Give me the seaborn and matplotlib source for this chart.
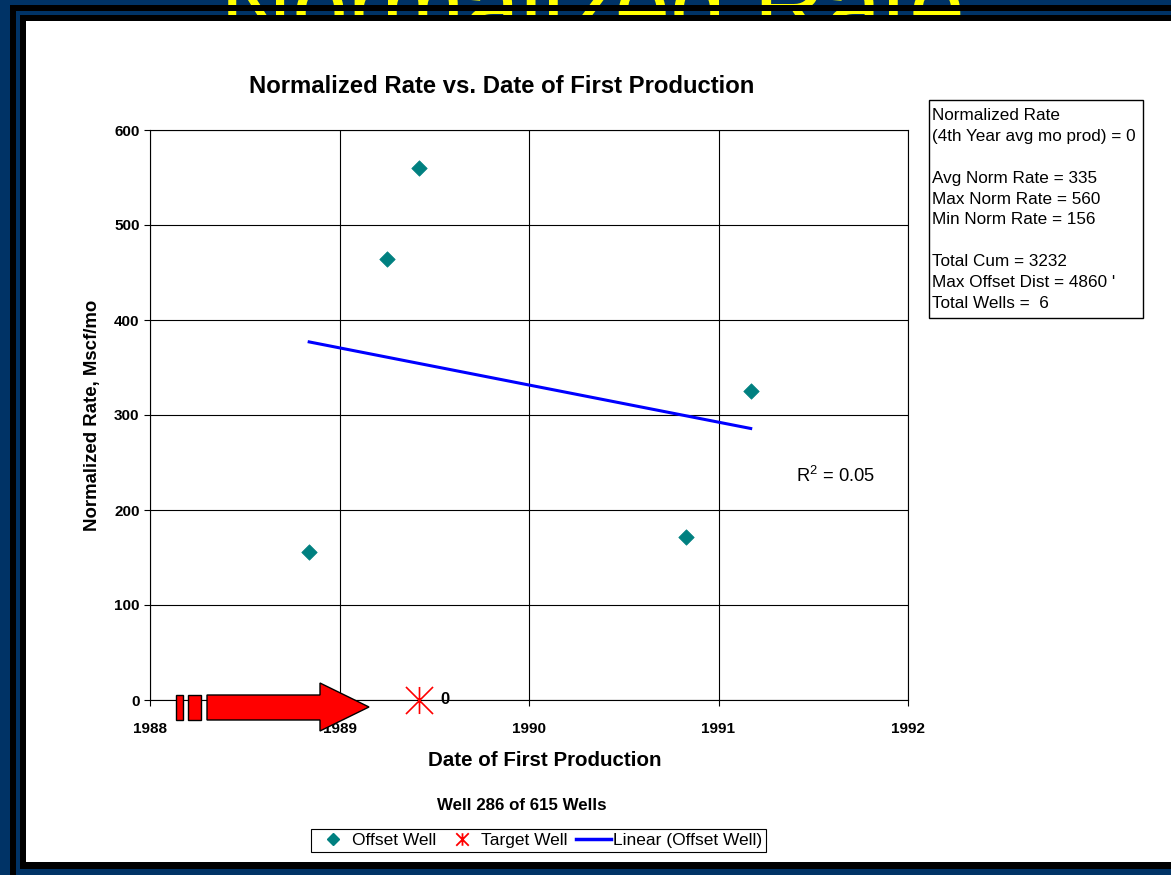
import numpy as np
import pandas as pd
import matplotlib
matplotlib.use("Agg")
import matplotlib.pyplot as plt
from matplotlib.path import Path
from matplotlib.markers import MarkerStyle
from matplotlib.patches import Rectangle, Polygon
from matplotlib.lines import Line2D
import seaborn as sns

# ---- data -------------------------------------------------------------
# Offset wells: date of first production (decimal year) and normalized rate (Mscf/mo)
offset_dates = [1988.84, 1989.25, 1989.42, 1990.83, 1991.17]
offset_rates = [156, 464, 560, 172, 325]

# Target well
target_dates = [1989.42]
target_rates = [0]

x_ticks = [1988, 1989, 1990, 1991, 1992]
y_ticks = [0, 100, 200, 300, 400, 500, 600]

target_norm_rate = 0
total_cum = 3232
max_offset_dist = 4860
total_wells = 6
well_index = 286
well_count = 615

# ---- fonts ------------------------------------------------------------
plt.rcParams["font.family"] = ["Liberation Sans", "DejaVu Sans"]
plt.rcParams["mathtext.fontset"] = "custom"
plt.rcParams["mathtext.rm"] = "Liberation Sans"
plt.rcParams["mathtext.it"] = "Liberation Sans:italic"
plt.rcParams["mathtext.bf"] = "Liberation Sans:bold"

W, H = 1171, 875
fig = plt.figure(figsize=(W / 100, H / 100), dpi=100, facecolor="#003366")


def fx(x):
    return x / W


def fy(y):
    return 1 - y / H


def rect_px(x0, y0, x1, y1, **kw):
    r = Rectangle((fx(x0), fy(y1)), fx(x1) - fx(x0), fy(y0) - fy(y1),
                  transform=fig.transFigure, **kw)
    fig.add_artist(r)
    return r


# ---- slide frame --------------------------------------------------------
fig.text(fx(592), fy(40), "Normalized Rate", color="#FFFF00", fontsize=72,
         ha="center", va="baseline", zorder=-6)
rect_px(10, 5, W, 11, facecolor="black", edgecolor="none", zorder=-5)
rect_px(10, 5, 16, H, facecolor="black", edgecolor="none", zorder=-5)
rect_px(20, 15, W, 869, facecolor="black", edgecolor="none", zorder=-4)
rect_px(26, 21, W, 862, facecolor="white", edgecolor="none", zorder=-3)

# ---- plot area ----------------------------------------------------------
ax = fig.add_axes([fx(150), fy(700), fx(908) - fx(150), fy(130) - fy(700)])
ax.set_facecolor("white")

offset_df = pd.DataFrame({"date": offset_dates, "rate": offset_rates})
target_df = pd.DataFrame({"date": target_dates, "rate": target_rates})

teal = "#008080"
sns.regplot(data=offset_df, x="date", y="rate", scatter=False, ci=None,
            line_kws=dict(color="#0000FF", lw=2.2, zorder=3), ax=ax)
sns.scatterplot(data=offset_df, x="date", y="rate", marker="D", s=62,
                color=teal, edgecolor=teal, linewidth=0.5, ax=ax, zorder=4)

# asterisk made of a vertical bar and a cross
asterisk = MarkerStyle(Path([(0, -1), (0, 1), (-1, -1), (1, 1), (-1, 1), (1, -1)],
                            [Path.MOVETO, Path.LINETO, Path.MOVETO, Path.LINETO,
                             Path.MOVETO, Path.LINETO]))
sns.scatterplot(data=target_df, x="date", y="rate", marker=asterisk, s=380,
                color="red", edgecolor="red", linewidth=1.2, ax=ax, zorder=5,
                clip_on=False)
for d, r in zip(target_dates, target_rates):
    ax.annotate(f"{r:g}", (d, r), xytext=(15, 0), textcoords="offset points",
                fontsize=12, fontweight="bold", va="center", ha="left",
                annotation_clip=False, zorder=6)

# linear trend statistics
slope, intercept = np.polyfit(offset_dates, offset_rates, 1)
pred = slope * np.array(offset_dates) + intercept
ss_res = np.sum((np.array(offset_rates) - pred) ** 2)
ss_tot = np.sum((np.array(offset_rates) - np.mean(offset_rates)) ** 2)
r2 = 1 - ss_res / ss_tot
ax.text(1991.41, 236, f"R$^2$ = {r2:.2f}", fontsize=13.2, ha="left", va="center")

ax.set_xlim(x_ticks[0], x_ticks[-1])
ax.set_ylim(y_ticks[0], y_ticks[-1])
ax.set_xticks(x_ticks)
ax.set_yticks(y_ticks)
ax.grid(True, color="black", lw=0.8)
ax.set_axisbelow(True)
for sp in ax.spines.values():
    sp.set_color("black")
    sp.set_linewidth(0.8)
ax.tick_params(direction="out", length=4, width=0.8, colors="black",
               labelsize=11, pad=3.5)
ax.tick_params(axis="x", pad=11.5)
for lab in ax.get_xticklabels() + ax.get_yticklabels():
    lab.set_fontweight("bold")

ax.set_xlabel("Date of First Production", fontsize=14.8, fontweight="bold")
ax.set_ylabel("Normalized Rate, Mscf/mo", fontsize=13.4, fontweight="bold")
ax.xaxis.set_label_coords((545 - 150) / 758, -(751 - 700) / 570)
ax.yaxis.set_label_coords(-(150 - 101) / 758, 0.5)

fig.text(fx(502), fy(93), "Normalized Rate vs. Date of First Production",
         fontsize=17.2, fontweight="bold", ha="center", va="baseline")
fig.text(fx(522), fy(810), f"Well {well_index} of {well_count} Wells",
         fontsize=12.2, fontweight="bold", ha="center", va="baseline")

# ---- statistics box ----------------------------------------------------
rect_px(929, 100, 1143, 318, facecolor="white", edgecolor="black", lw=1, zorder=2)
info_lines = [
    "Normalized Rate",
    f"(4th Year avg mo prod) = {target_norm_rate}",
    "",
    f"Avg Norm Rate = {np.mean(offset_rates):.0f}",
    f"Max Norm Rate = {max(offset_rates)}",
    f"Min Norm Rate = {min(offset_rates)}",
    "",
    f"Total Cum = {total_cum}",
    f"Max Offset Dist = {max_offset_dist} '",
    f"Total Wells =  {total_wells}",
]
for i, line in enumerate(info_lines):
    if line:
        fig.text(fx(932), fy(120 + i * 20.9), line, fontsize=12.3,
                 ha="left", va="baseline", zorder=3)

# ---- pointer arrow toward the target well ------------------------------
arrow_pts = [(207, 695), (320, 695), (320, 683), (369, 707), (320, 731),
             (320, 720), (207, 720)]
fig.add_artist(Polygon([(fx(x), fy(y)) for x, y in arrow_pts], closed=True,
                       transform=fig.transFigure, facecolor="red",
                       edgecolor="black", lw=1, zorder=8))
rect_px(176, 695, 183, 720, facecolor="red", edgecolor="black", lw=1, zorder=8)
rect_px(188, 695, 201, 720, facecolor="red", edgecolor="black", lw=1, zorder=8)

# ---- legend -------------------------------------------------------------
handles = [
    Line2D([], [], ls="none", marker="D", ms=6.5, mfc=teal, mec=teal),
    Line2D([], [], ls="none", marker=asterisk, ms=9, mec="red", mew=1.3),
    Line2D([], [], color="#0000FF", lw=2.5),
]
labels = ["Offset Well", "Target Well", "Linear (Offset Well)"]
leg = fig.legend(handles, labels, loc="center",
                 bbox_to_anchor=(fx(538.5), fy(840.5)), ncol=3, frameon=True,
                 fancybox=False, edgecolor="black", framealpha=1,
                 fontsize=12.5, borderpad=0.25, handletextpad=0.1,
                 columnspacing=0.5, handlelength=2.0, borderaxespad=0)
leg.get_frame().set_linewidth(0.8)
leg.set_zorder(7)

fig.savefig("out.png", dpi=100, facecolor=fig.get_facecolor())
